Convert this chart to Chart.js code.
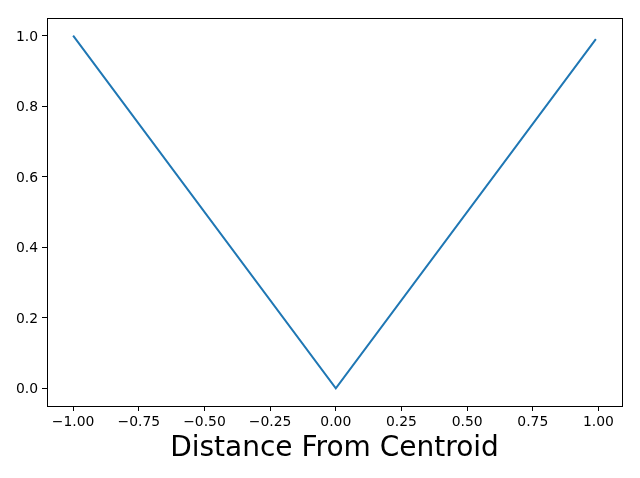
<!DOCTYPE html>
<html>
<head>
<meta charset="utf-8">
<script src="https://cdn.jsdelivr.net/npm/chart.js@4"></script>
<style>
  html, body { margin: 0; padding: 0; background: #fff; }
  canvas { display: block; }
</style>
</head>
<body>
<canvas id="chart" width="640" height="478"></canvas>
<script>
// distance from centroid vs normalised value
const distance = [-1.0, 0.0, 0.99];
const value = [1.0, 0.0, 0.99];
const xTicks = [-1.0, -0.75, -0.5, -0.25, 0.0, 0.25, 0.5, 0.75, 1.0];
const yTicks = [0.0, 0.2, 0.4, 0.6, 0.8, 1.0];

const minus = s => s.replace('-', '\u2212');

const frame = {
    id: 'frame',
    afterDraw(chart) {
        const { ctx, chartArea: a } = chart;
        ctx.save();
        ctx.strokeStyle = '#000';
        ctx.lineWidth = 1;
        ctx.strokeRect(Math.round(a.left) + 0.5, Math.round(a.top) + 0.5,
            Math.round(a.right - a.left), Math.round(a.bottom - a.top));
        ctx.restore();
    }
};

new Chart(document.getElementById('chart'), {
    type: 'line',
    data: {
        datasets: [{
            data: distance.map((x, i) => ({ x: x, y: value[i] })),
            borderColor: '#1f77b4',
            borderWidth: 2,
            pointRadius: 0,
            tension: 0,
            fill: false
        }]
    },
    options: {
        responsive: false,
        animation: false,
        layout: { padding: { top: 18, right: 18, left: 0, bottom: 0 } },
        plugins: { legend: { display: false }, tooltip: { enabled: false } },
        scales: {
            x: {
                type: 'linear',
                min: -1.0995,
                max: 1.0895,
                afterBuildTicks: s => { s.ticks = xTicks.map(v => ({ value: v })); },
                afterFit: s => { s.height = 72; },
                grid: { drawOnChartArea: false, tickLength: 5, color: '#000', tickWidth: 1 },
                border: { display: false },
                ticks: {
                    color: '#000',
                    padding: 3,
                    maxRotation: 0,
                    font: { family: 'DejaVu Sans', size: 13.9 },
                    callback: v => minus(v.toFixed(2))
                },
                title: {
                    display: true,
                    text: 'Distance From Centroid',
                    color: '#000',
                    font: { family: 'DejaVu Sans', size: 28 },
                    padding: { top: 0, bottom: 12 }
                }
            },
            y: {
                type: 'linear',
                min: -0.05,
                max: 1.05,
                afterBuildTicks: s => { s.ticks = yTicks.map(v => ({ value: v })); },
                afterFit: s => { s.width = 47; },
                grid: { drawOnChartArea: false, tickLength: 5, color: '#000', tickWidth: 1 },
                border: { display: false },
                ticks: {
                    color: '#000',
                    padding: 4,
                    labelOffset: 1.5,
                    font: { family: 'DejaVu Sans', size: 13.9 },
                    callback: v => minus(v.toFixed(1))
                }
            }
        }
    },
    plugins: [frame]
});
</script>
</body>
</html>
